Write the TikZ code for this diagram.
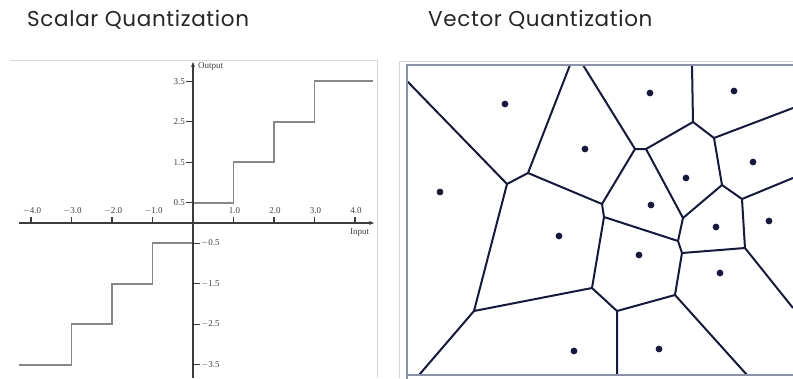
\documentclass[tikz,border=0pt]{standalone}
\usepackage{fontspec}
\setmainfont{Liberation Serif}
\newfontfamily\titlefont[LetterSpace=3]{Poppins}
\usetikzlibrary{arrows.meta}
\definecolor{navy}{RGB}{22,24,60}
\definecolor{framegray}{RGB}{140,144,168}
\definecolor{lightframe}{RGB}{214,214,220}
\definecolor{axisgray}{RGB}{60,60,60}
\definecolor{stairgray}{RGB}{135,135,135}
\tikzset{
  title/.style={font=\titlefont\fontsize{21.5}{24}\selectfont, anchor=west, inner sep=0pt, text=black!85},
  ticklbl/.style={font=\fontsize{9}{10}\selectfont, inner sep=0pt, text=black!75},
  axisline/.style={draw=axisgray, line width=1.6pt, -{Stealth[length=5pt,width=4pt]}},
  tickmark/.style={draw=axisgray, line width=1.2pt},
  stair/.style={draw=stairgray, line width=1.6pt},
  edge/.style={draw=navy, line width=2pt, line join=round},
  site/.style={fill=navy, draw=none},
}
\begin{document}
\begin{tikzpicture}[x=1pt,y=-1pt]
\useasboundingbox (0,0) rectangle (793,378);
% titles
\node[title] (t1) at (27,20) {Scalar Quantization};
\node[title] (t2) at (428,20) {Vector Quantization};

% ---------- left panel ----------
\draw[lightframe, line width=1pt] (10,60) -- (377,60) -- (377,378);
\def\ox{193}\def\oy{223}\def\un{40.5}
% staircase
\draw[stair] (\ox,{\oy-0.5*\un}) -- ({\ox+1*\un},{\oy-0.5*\un}) -- ({\ox+1*\un},{\oy-1.5*\un})
  -- ({\ox+2*\un},{\oy-1.5*\un}) -- ({\ox+2*\un},{\oy-2.5*\un}) -- ({\ox+3*\un},{\oy-2.5*\un})
  -- ({\ox+3*\un},{\oy-3.5*\un}) -- (373,{\oy-3.5*\un});
\draw[stair] (19,{\oy+3.5*\un}) -- ({\ox-3*\un},{\oy+3.5*\un}) -- ({\ox-3*\un},{\oy+2.5*\un})
  -- ({\ox-2*\un},{\oy+2.5*\un}) -- ({\ox-2*\un},{\oy+1.5*\un}) -- ({\ox-1*\un},{\oy+1.5*\un})
  -- ({\ox-1*\un},{\oy+0.5*\un}) -- (\ox,{\oy+0.5*\un});
% axes
\coordinate (xs) at (19,\oy); \coordinate (xe) at (374,\oy);
\coordinate (ys) at (\ox,378); \coordinate (ye) at (\ox,62);
\draw[axisline] (xs) -- (xe);
\draw[axisline] (ys) -- (ye);
\node[ticklbl, anchor=north west] (inlbl) at (350,228) {Input};
\node[ticklbl, anchor=west] (outlbl) at (198,66) {Output};
% x ticks
\foreach \i/\l in {-4/{$-$4.0},-3/{$-$3.0},-2/{$-$2.0},-1/{$-$1.0},1/1.0,2/2.0,3/3.0,4/4.0}{
  \draw[tickmark] ({\ox+\i*\un},\oy) -- ({\ox+\i*\un},{\oy-6});
  \node[ticklbl] at ({\ox+\i*\un+1},{\oy-12}) {\l};
}
% y ticks positive (left)
\foreach \v in {0.5,1.5,2.5,3.5}{
  \draw[tickmark] (\ox,{\oy-\v*\un}) -- ({\ox-7},{\oy-\v*\un});
  \node[ticklbl, anchor=east] at ({\ox-8},{\oy-\v*\un}) {\v};
}
% y ticks negative (right)
\foreach \v in {0.5,1.5,2.5,3.5}{
  \draw[tickmark] (\ox,{\oy+\v*\un}) -- ({\ox+7},{\oy+\v*\un});
  \node[ticklbl, anchor=west] at ({\ox+8},{\oy+\v*\un}) {$-$\v};
}

% ---------- right panel ----------
\draw[lightframe, line width=1pt] (399,378) -- (399,61) -- (793,61);
% Voronoi vertices
\coordinate (A) at (507,184);
\coordinate (B) at (528,173);
\coordinate (C) at (635,149);
\coordinate (D) at (646,149);
\coordinate (E) at (693,122);
\coordinate (F) at (714,138);
\coordinate (G) at (722,185);
\coordinate (H) at (742,199);
\coordinate (I) at (602,204);
\coordinate (J) at (683,218);
\coordinate (K) at (604,217);
\coordinate (L) at (678,241);
\coordinate (M) at (682,253);
\coordinate (N) at (745,248);
\coordinate (O) at (675,295);
\coordinate (P) at (617,311);
\coordinate (Q) at (592,288);
\coordinate (R) at (474,311);
% boundary points
\coordinate (b1) at (407,81);
\coordinate (b2) at (570,65);
\coordinate (b3) at (583,65);
\coordinate (b4) at (692,65);
\coordinate (b5) at (793,108);
\coordinate (b6) at (793,178);
\coordinate (b7) at (793,308);
\coordinate (b8) at (747,375);
\coordinate (b9) at (617,375);
\coordinate (b10) at (419,375);
\begin{scope}
\clip (407,65) rectangle (793,375);
\draw[edge] (b1) -- (A) -- (B) -- (b2);
\draw[edge] (b3) -- (C) -- (D) -- (E) -- (b4);
\draw[edge] (E) -- (F) -- (b5);
\draw[edge] (F) -- (G) -- (H) -- (b6);
\draw[edge] (H) -- (N) -- (b7);
\draw[edge] (C) -- (I) -- (K) -- (L) -- (M) -- (N);
\draw[edge] (B) -- (I);
\draw[edge] (D) -- (J) -- (G);
\draw[edge] (J) -- (L);
\draw[edge] (M) -- (O) -- (b8);
\draw[edge] (O) -- (P) -- (b9);
\draw[edge] (P) -- (Q) -- (K);
\draw[edge] (Q) -- (R) -- (A);
\draw[edge] (R) -- (b10);
\end{scope}
% sites
\foreach \p in {(505,104),(650,93),(734,91),(585,149),(753,162),(440,192),(686,178),(651,205),
  (716,227),(769,221),(559,236),(639,255),(720,273),(574,351),(659,349)}{
  \fill[site] \p circle (3.4);
}
% frame
\draw[framegray, line width=1.8pt] (407,380) -- (407,65) -- (796,65);
\draw[framegray, line width=1.8pt] (407,375) -- (796,375);
\end{tikzpicture}
\end{document}
